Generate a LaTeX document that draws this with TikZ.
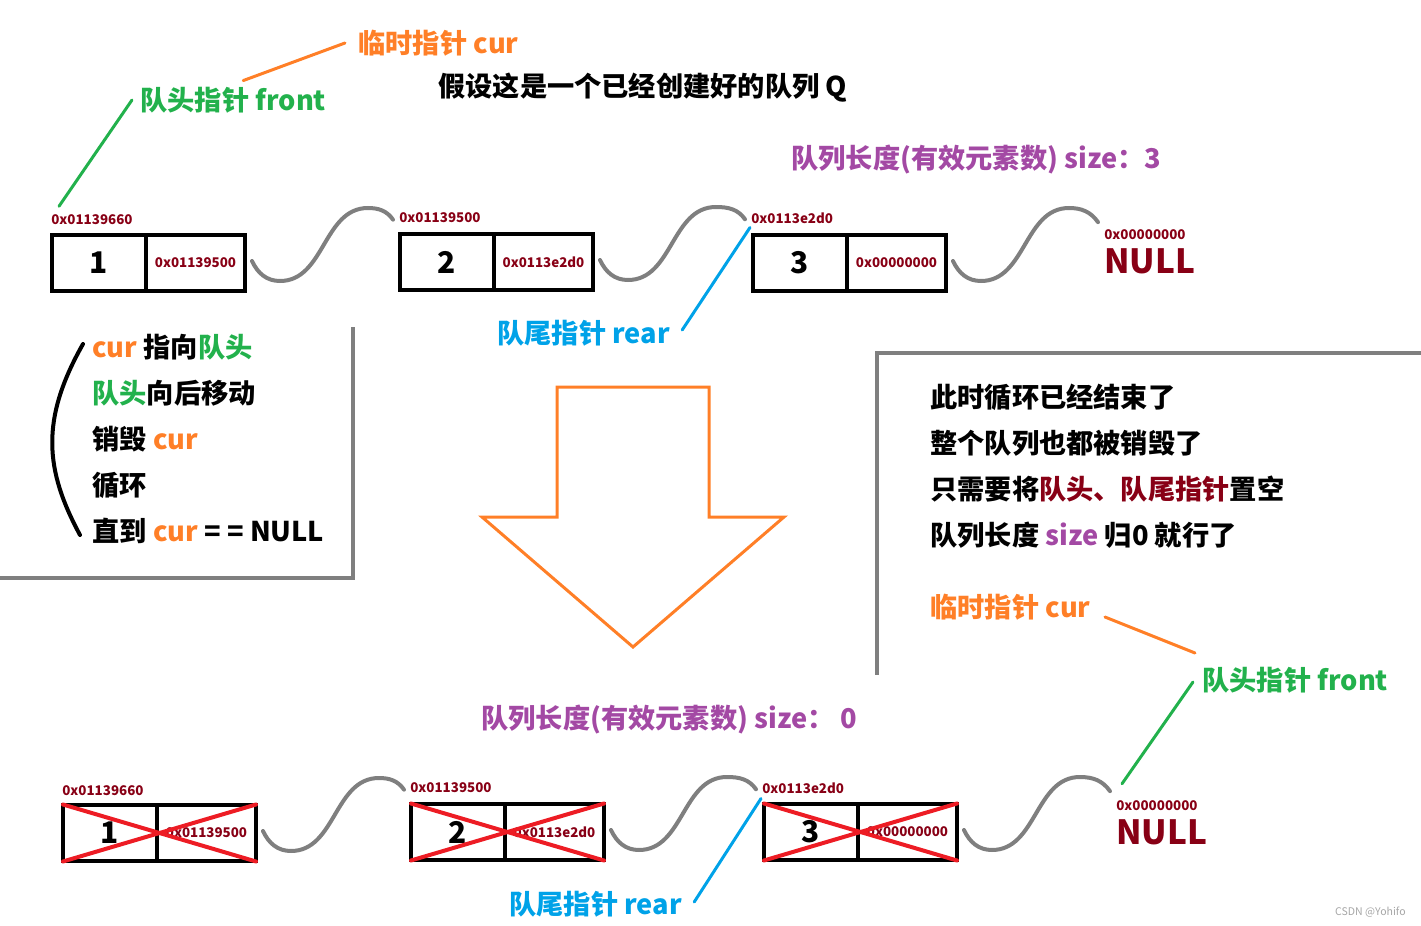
\documentclass[tikz,border=0pt]{standalone}
\usepackage{fontspec}
\setmainfont{Noto Sans CJK SC}
\usetikzlibrary{positioning}

\definecolor{curorange}{RGB}{255,127,39}
\definecolor{frontgreen}{RGB}{34,177,76}
\definecolor{rearblue}{RGB}{0,162,232}
\definecolor{sizepurple}{RGB}{163,73,164}
\definecolor{addrred}{RGB}{136,0,21}
\definecolor{linegray}{RGB}{127,127,127}
\definecolor{crossred}{RGB}{237,28,36}

\tikzset{
  lbl/.style={inner sep=0pt, anchor=west, font=\bfseries\fontsize{15.5}{18}\selectfont},
  addr/.style={inner sep=0pt, anchor=base west, text=addrred, font=\bfseries\fontsize{7.6}{9}\selectfont},
  cell/.style={draw, line width=0.08cm, minimum height=1.14cm, outer sep=0pt, inner sep=0pt},
  datacell/.style={cell, minimum width=1.88cm, font=\bfseries\fontsize{17}{18}\selectfont},
  ptrcell/.style={cell, minimum width=1.98cm, text=addrred, font=\bfseries\fontsize{7.6}{9}\selectfont},
  nulltxt/.style={inner sep=0pt, anchor=base west, text=addrred, font=\bfseries\fontsize{19}{20}\selectfont},
  wave/.style={draw=linegray, line width=0.08cm, line cap=round},
  ptrline/.style={line width=0.06cm, line cap=round},
  cross/.style={draw=crossred, line width=0.08cm, line cap=round},
  frame/.style={draw=linegray, line width=0.08cm}
}

\begin{document}
\begin{tikzpicture}[x=0.02cm,y=-0.02cm]
  \useasboundingbox (0,0) rectangle (1421,926);

  % labels at the top
  \node[lbl, text=curorange] (cur1) at (358,43) {临时指针 cur};
  \node[lbl, text=frontgreen] (front1) at (140,100) {队头指针 front};
  \node[lbl] (title) at (438,88) {假设这是一个已经创建好的队列 Q};
  \node[lbl, text=sizepurple] (size1) at (791,160) {队列长度(有效元素数) size：3};

  % the queue before
  \node[datacell] (n1d) at (99,263) {1};
  \node[ptrcell, right=0pt of n1d] (n1p) {0x01139500};
  \node[datacell] (n2d) at (447,262) {2};
  \node[ptrcell, right=0pt of n2d] (n2p) {0x0113e2d0};
  \node[datacell] (n3d) at (800,263) {3};
  \node[ptrcell, right=0pt of n3d] (n3p) {0x00000000};
  \node[addr] (a1) at ([shift={(-1,-10)}]n1d.north west) {0x01139660};
  \node[addr] (a2) at ([shift={(-1,-11)}]n2d.north west) {0x01139500};
  \node[addr] (a3) at ([shift={(-2,-11)}]n3d.north west) {0x0113e2d0};
  \node[addr] (na1) at (1104,239) {0x00000000};
  \node[nulltxt] (null1) at (1104,274) {NULL};

  \node[lbl, text=rearblue] (rear1) at (497,333) {队尾指针 rear};

  % left box
  \node[lbl] (l1) at (92,347) {\textcolor{curorange}{cur} 指向\textcolor{frontgreen}{队头}};
  \node[lbl] (l2) at (92,393) {\textcolor{frontgreen}{队头}向后移动};
  \node[lbl] (l3) at (92,439) {销毁 \textcolor{curorange}{cur}};
  \node[lbl] (l4) at (92,485) {循环};
  \node[lbl] (l5) at (92,531) {直到 \textcolor{curorange}{cur} = = NULL};
  \draw[line width=0.08cm, line cap=round] ([shift={(-9,-3)}]l1.west)
    .. controls (40,420) and (45,470) .. ([shift={(-12,4)}]l5.west);
  \draw[frame] (353,327) -- (353,578) -- (0,578);

  % big arrow
  \draw[curorange, line width=0.06cm] (557,387) -- (709,387) -- (709,517) -- (784,517)
    -- (633,647) -- (482,517) -- (557,517) -- cycle;

  % right box
  \draw[frame] (1421,353) -- (877,353) -- (877,675);
  \node[lbl] (r1) at (930,397) {此时循环已经结束了};
  \node[lbl] (r2) at (930,443) {整个队列也都被销毁了};
  \node[lbl] (r3) at (930,489) {只需要将\textcolor{addrred}{队头、队尾指针}置空};
  \node[lbl] (r4) at (930,535) {队列长度 \textcolor{sizepurple}{size} 归0 就行了};
  \node[lbl, text=curorange] (cur2) at (930,607) {临时指针 cur};
  \node[lbl, text=frontgreen] (front2) at (1202,680) {队头指针 front};

  \node[lbl, text=sizepurple] (size2) at (481,720) {队列长度(有效元素数) size： 0};

  % the queue after
  \node[datacell] (m1d) at (110,833) {1};
  \node[ptrcell, right=0pt of m1d] (m1p) {0x01139500};
  \node[datacell] (m2d) at (458,832) {2};
  \node[ptrcell, right=0pt of m2d] (m2p) {0x0113e2d0};
  \node[datacell] (m3d) at (811,832) {3};
  \node[ptrcell, right=0pt of m3d] (m3p) {0x00000000};
  \node[addr] (b1) at ([shift={(-1,-9)}]m1d.north west) {0x01139660};
  \node[addr] (b2) at ([shift={(-1,-11)}]m2d.north west) {0x01139500};
  \node[addr] (b3) at ([shift={(-2,-10)}]m3d.north west) {0x0113e2d0};
  \node[addr] (nb1) at (1116,810) {0x00000000};
  \node[nulltxt] (null2) at (1116,844) {NULL};

  \node[lbl, text=rearblue] (rear2) at (509,904) {队尾指针 rear};

  \foreach \m in {m1,m2,m3} {
    \draw[cross] (\m d.north west) -- (\m p.south east);
    \draw[cross] (\m d.south west) -- (\m p.north east);
  }

  % links
  \foreach \s/\e/\dy in {n1p/a2/2, n2p/a3/1, n3p/na1/-12, m1p/b2/2, m2p/b3/1, m3p/nb1/-14} {
    \draw[wave] (\s.east) ++(7,-2) to[out=-65,in=180] ++(28,20) to[out=0,in=180] ++(88,-73)
      to[out=0,in=125] ([shift={(-6,\dy)}]\e.west);
  }

  % pointers
  \draw[ptrline, curorange] ([shift={(-13,0)}]cur1.west) -- ([shift={(10,-6)}]front1.north);
  \draw[ptrline, frontgreen] ([shift={(-8,0)}]front1.west) -- ([shift={(8,-8)}]a1.north west);
  \draw[ptrline, rearblue] ([shift={(12,-3)}]rear1.east) -- ([shift={(-3,-7)}]n3d.north west);
  \draw[ptrline, curorange] ([shift={(14,10)}]cur2.east) -- ([shift={(-7,-27)}]front2.west);
  \draw[ptrline, frontgreen] ([shift={(-9,2)}]front2.west) -- ([shift={(6,-16)}]nb1.north west);
  \draw[ptrline, rearblue] ([shift={(12,-2)}]rear2.east) -- ([shift={(-3,-5)}]m3d.north west);

  \node[inner sep=0pt, anchor=east, text=gray!70, font=\fontsize{6}{7}\selectfont] (mark) at (1406,912) {CSDN @Yohifo};
\end{tikzpicture}
\end{document}
